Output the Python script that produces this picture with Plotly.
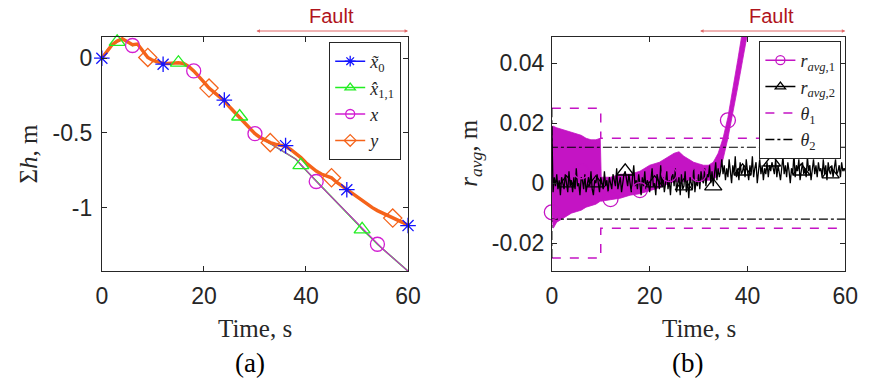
import numpy as np
import plotly.graph_objects as go

# ---------------- Panel (a) data ----------------
t_a = list(range(61))
y_meas = [0.00, 0.05, 0.09, 0.115, 0.13, 0.11, 0.09, 0.095, 0.05, 0.005,
          -0.015, -0.025, -0.035, -0.035, -0.03, -0.03, -0.035, -0.055, -0.085, -0.12,
          -0.16, -0.20, -0.23, -0.26, -0.285, -0.325, -0.36, -0.395, -0.435, -0.47,
          -0.505, -0.53, -0.55, -0.565, -0.575, -0.58, -0.59, -0.61, -0.635, -0.665,
          -0.70, -0.73, -0.755, -0.775, -0.785, -0.80, -0.83, -0.855, -0.88, -0.905,
          -0.93, -0.955, -0.98, -1.00, -1.02, -1.035, -1.05, -1.07, -1.085, -1.10, -1.12]
x_tilde0 = [0.00, 0.05, 0.09, 0.115, 0.13, 0.11, 0.09, 0.095, 0.05, 0.005,
            -0.015, -0.025, -0.04, -0.035, -0.03, -0.03, -0.035, -0.055, -0.085, -0.12,
            -0.16, -0.20, -0.23, -0.26, -0.28, -0.325, -0.36, -0.395, -0.435, -0.47,
            -0.505, -0.53, -0.55, -0.565, -0.575, -0.58, -0.585, -0.61, -0.635, -0.665,
            -0.70, -0.73, -0.755, -0.775, -0.785, -0.80, -0.83, -0.855, -0.88, -0.905,
            -0.93, -0.955, -0.98, -1.00, -1.02, -1.035, -1.05, -1.07, -1.085, -1.10, -1.12]
x_state = [0.00, 0.05, 0.09, 0.115, 0.13, 0.11, 0.085, 0.095, 0.05, 0.005,
           -0.015, -0.025, -0.035, -0.035, -0.03, -0.03, -0.035, -0.055, -0.085, -0.12,
           -0.16, -0.20, -0.23, -0.26, -0.285, -0.325, -0.36, -0.395, -0.435, -0.47,
           -0.505, -0.53, -0.55, -0.57, -0.59, -0.61, -0.63, -0.65, -0.675, -0.71,
           -0.75, -0.79, -0.825, -0.86, -0.895, -0.93, -0.965, -1.00, -1.035, -1.07,
           -1.105, -1.14, -1.175, -1.21, -1.245, -1.275, -1.305, -1.335, -1.365, -1.395, -1.425]
x_hat11 = [0.00, 0.05, 0.09, 0.11, 0.13, 0.11, 0.085, 0.095, 0.05, 0.005,
           -0.015, -0.025, -0.035, -0.035, -0.03, -0.03, -0.035, -0.055, -0.085, -0.12,
           -0.16, -0.20, -0.23, -0.26, -0.285, -0.325, -0.36, -0.39, -0.435, -0.47,
           -0.505, -0.53, -0.55, -0.57, -0.59, -0.61, -0.63, -0.65, -0.675, -0.715,
           -0.75, -0.79, -0.825, -0.86, -0.895, -0.93, -0.965, -1.00, -1.035, -1.07,
           -1.105, -1.145, -1.175, -1.21, -1.245, -1.275, -1.305, -1.335, -1.365, -1.395, -1.425]
mk_xt0 = [0, 12, 24, 36, 48, 60]
mk_xh11 = [3, 15, 27, 39, 51]
mk_x = [6, 18, 30, 42, 54]
mk_y = [9, 21, 33, 45, 57]

# ---------------- Panel (b) data ----------------
# r_avg,2 (mm), sampled every 0.25 s from 0 to 60 s
r2_mm = [19, -3, 2, -1, 3, -2, 1, -4, 2, 0, -2, 3, 0, -3, 4, -1, 1, -3, 2, -2,
         5, -1, 0, -4, 2, 1, -2, 3, -3, 0, 2, -1, 4, -2, -4, 1, 0, 3, -1, -3,
         2, 0, -2, 4, -1, 1, -3, 2, 0, -2, 3, 1, -1, 5, -2, 0, 2, -3, 1, 3,
         4, 2, -1, 3, 0, -3, 2, 6, -1, 1, -2, 3, 0, -4, 2, -1, 4, -2, 1, 0,
         -3, 2, 5, -1, 0, -4, 3, 1, -2, 6, -1, 2, -3, 0, 4, -2, 1, -4, 2, 3,
         -1, 5, -3, 0, 2, -4, 3, -2, -1, 4, -3, 1, -5, 2, 0, -2, 5, -3, 1, -1,
         3, -2, 4, 1, 0, 5, -1, 3, 2, 6, 0, 4, -1, 3, 7, 1, 5, 2, 4, 8,
         3, 6, 1, 5, 2, 8, 4, 0, 6, 3, 9, 2, 5, 1, 7, 3, 4, 6, 2, 8,
         4, 1, 6, 3, 9, 2, 5, 7, 0, 4, 8, 3, 6, 1, 5, 3, 7, 2, 6, 4,
         7, 5, 3, 8, 2, 6, 4, 1, 5, 9, 3, 6, 2, 7, 4, 0, 5, 3, 10, 2,
         6, 4, 8, 1, 4, 7, 3, 5, 2, 9, 4, 6, 1, 5, 8, 3, 6, 2, 7, 4,
         5, 2, 8, 3, 6, 1, 7, 4, 3, 6, 2, 5, 8, 3, 4, 6, 2, 7, 4, 5,
         4]
t_b = [i * 0.25 for i in range(len(r2_mm))]
mk_r2 = [12, 36, 60, 84, 108, 132, 156, 180, 204, 228]

# r_avg,1 oscillation envelope (mm)
r1_t = [0, 0.3, 1, 2, 3, 4, 5, 6, 7, 8, 9, 9.9, 10.1, 12, 14, 16, 18, 20, 22, 24,
        25, 26, 27, 28, 29, 30, 31, 32, 33, 34, 35, 36, 37, 38, 39, 40]
r1_hi_mm = [19, 19, 18.5, 18, 17.5, 17, 16.5, 16, 15, 14.5, 14.5, 15, 2, 2, 3, 3, 4, 6, 7, 9,
            10, 10.5, 9, 8, 7, 6.5, 6, 6, 7, 10, 15, 22, 31, 41, 51, 60]
r1_lo_mm = [-10, -15, -13, -12, -11, -10, -9.5, -9, -8, -7.5, -7, -6, -6, -5.5, -5, -4, -3.5, -2.5, -1.5, 0,
            0.5, 0.5, 0.5, 1, 1, 1.5, 1, 1, 1, 3, 8, 15, 23, 32, 41, 50]
r1_mk_t = [0, 6, 12, 18, 24, 30, 36]
r1_mk_mm = [-9.7, 4, -5.3, -2.3, 3, 3, 21]

theta1_t = [0, 10, 10, 60]
theta1_mm = [25, 25, 15, 15]
theta2_t = [0, 0, 60]
theta2_mm = [25, 12, 12]

# ---------------- Figure ----------------
W, H = 872, 386
def px_x(p): return p / W
def px_y(p): return 1 - p / H

BLUE, GREEN, MAG, ORANGE = "#1414ff", "#22ee22", "#d21ed2", "#f5631a"
MAG_B = "#c414c4"
AX = "#262626"
SERIF = "Liberation Serif"
SANS = "Liberation Sans"

fig = go.Figure()

def mm(v): return [a / 1000 for a in v]

# panel (a) lines
fig.add_trace(go.Scatter(x=t_a, y=x_tilde0, mode="lines", line=dict(color=BLUE, width=1.5),
                         showlegend=False, xaxis="x", yaxis="y"))
fig.add_trace(go.Scatter(x=t_a, y=x_hat11, mode="lines", line=dict(color=GREEN, width=1.6),
                         showlegend=False, xaxis="x", yaxis="y"))
fig.add_trace(go.Scatter(x=t_a, y=x_state, mode="lines", line=dict(color=MAG, width=1.1),
                         showlegend=False, xaxis="x", yaxis="y"))
fig.add_trace(go.Scatter(x=t_a, y=y_meas, mode="lines", line=dict(color=ORANGE, width=3.5),
                         showlegend=False, xaxis="x", yaxis="y"))
# panel (a) markers
for idx, arr, col, sym, sz in [(mk_xt0, x_tilde0, BLUE, "asterisk-open", 13),
                                (mk_xh11, x_hat11, GREEN, "triangle-up-open", 14),
                                (mk_x, x_state, MAG, "circle-open", 14),
                                (mk_y, y_meas, ORANGE, "diamond-open", 14)]:
    fig.add_trace(go.Scatter(x=[t_a[i] for i in idx], y=[arr[i] for i in idx], mode="markers",
                             marker=dict(symbol=sym, size=sz, color=col, line=dict(color=col, width=1.3)),
                             cliponaxis=False, showlegend=False, xaxis="x", yaxis="y"))
# panel (a) legend entries
for name, col, sym in [("<i>x̃</i><sub>0</sub>", BLUE, "asterisk-open"),
                       ("<i>x̂</i><sub>1,1</sub>", GREEN, "triangle-up-open"),
                       ("<i>x</i>", MAG, "circle-open"),
                       ("<i>y</i>", ORANGE, "diamond-open")]:
    fig.add_trace(go.Scatter(x=[None], y=[None], mode="lines+markers", name=name,
                             line=dict(color=col, width=1.5),
                             marker=dict(symbol=sym, size=9, color=col, line=dict(color=col, width=1.3)),
                             legend="legend", xaxis="x", yaxis="y"))

# panel (b) magenta band
fig.add_trace(go.Scatter(x=r1_t, y=mm(r1_hi_mm), mode="lines", line=dict(color=MAG_B, width=0.8),
                         showlegend=False, xaxis="x2", yaxis="y2"))
fig.add_trace(go.Scatter(x=r1_t, y=mm(r1_lo_mm), mode="lines", line=dict(color=MAG_B, width=0.8),
                         fill="tonexty", fillcolor=MAG_B, showlegend=False, xaxis="x2", yaxis="y2"))
# black noise
fig.add_trace(go.Scatter(x=t_b, y=mm(r2_mm), mode="lines", line=dict(color="black", width=1.3),
                         showlegend=False, xaxis="x2", yaxis="y2"))
# thresholds
fig.add_trace(go.Scatter(x=theta1_t, y=mm(theta1_mm), mode="lines", line=dict(color=MAG_B, width=1.5, dash="dash"),
                         showlegend=False, xaxis="x2", yaxis="y2"))
fig.add_trace(go.Scatter(x=theta1_t, y=[-v for v in mm(theta1_mm)], mode="lines", line=dict(color=MAG_B, width=1.5, dash="dash"),
                         showlegend=False, xaxis="x2", yaxis="y2"))
fig.add_trace(go.Scatter(x=theta2_t, y=mm(theta2_mm), mode="lines", line=dict(color="black", width=1.2, dash="dashdot"),
                         showlegend=False, xaxis="x2", yaxis="y2"))
fig.add_trace(go.Scatter(x=theta2_t, y=[-v for v in mm(theta2_mm)], mode="lines", line=dict(color="black", width=1.2, dash="dashdot"),
                         showlegend=False, xaxis="x2", yaxis="y2"))
# markers
fig.add_trace(go.Scatter(x=r1_mk_t, y=mm(r1_mk_mm), mode="markers",
                         marker=dict(symbol="circle-open", size=15, color=MAG_B, line=dict(color=MAG_B, width=1.3)),
                         cliponaxis=False, showlegend=False, xaxis="x2", yaxis="y2"))
fig.add_trace(go.Scatter(x=[t_b[i] for i in mk_r2], y=[r2_mm[i] / 1000 for i in mk_r2], mode="markers",
                         marker=dict(symbol="triangle-up-open", size=15, color="black", line=dict(color="black", width=1.3)),
                         cliponaxis=False, showlegend=False, xaxis="x2", yaxis="y2"))
# panel (b) legend entries
for name, col, sym, dash in [("<i>r</i><sub><i>avg</i>,1</sub>", MAG_B, "circle-open", "solid"),
                             ("<i>r</i><sub><i>avg</i>,2</sub>", "black", "triangle-up-open", "solid"),
                             ("<i>θ</i><sub>1</sub>", MAG_B, None, "dash"),
                             ("<i>θ</i><sub>2</sub>", "black", None, "dashdot")]:
    if sym:
        fig.add_trace(go.Scatter(x=[None], y=[None], mode="lines+markers", name=name,
                                 line=dict(color=col, width=1.5, dash=dash),
                                 marker=dict(symbol=sym, size=9, color=col, line=dict(color=col, width=1.3)),
                                 legend="legend2", xaxis="x2", yaxis="y2"))
    else:
        fig.add_trace(go.Scatter(x=[None], y=[None], mode="lines", name=name,
                                 line=dict(color=col, width=1.5, dash=dash),
                                 legend="legend2", xaxis="x2", yaxis="y2"))

axis_common = dict(showline=True, linecolor=AX, linewidth=1, mirror="ticks", ticks="inside",
                   ticklen=5, tickcolor=AX, showgrid=False, zeroline=False,
                   tickfont=dict(family=SANS, size=23, color=AX))
ydom = [px_y(271), px_y(37)]
fig.update_layout(
    width=W, height=H, margin=dict(l=0, r=0, t=0, b=0),
    plot_bgcolor="white", paper_bgcolor="white",
    xaxis=dict(domain=[px_x(98), px_x(411)], range=[0, 60], tickvals=[0, 20, 40, 60],
               anchor="y", ticklabelstandoff=4, **axis_common),
    yaxis=dict(domain=ydom, range=[-1.424, 0.142], tickvals=[-1, -0.5, 0],
               ticktext=["-1", "-0.5", "0"], anchor="x", ticklabelstandoff=4, **axis_common),
    xaxis2=dict(domain=[px_x(558), px_x(858)], range=[0, 60], tickvals=[0, 20, 40, 60],
                anchor="y2", ticklabelstandoff=4, **axis_common),
    yaxis2=dict(domain=ydom, range=[-0.0293, 0.0488], tickvals=[-0.02, 0, 0.02, 0.04],
                ticktext=["-0.02", "0", "0.02", "0.04"], anchor="x2", ticklabelstandoff=2, **axis_common),
    legend=dict(x=px_x(404), xanchor="right", y=px_y(42), yanchor="top", traceorder="normal",
                bordercolor=AX, borderwidth=1, bgcolor="white",
                font=dict(family=SERIF, size=18, color=AX), tracegroupgap=0),
    legend2=dict(x=px_x(854), xanchor="right", y=px_y(41), yanchor="top", traceorder="normal",
                 bordercolor=AX, borderwidth=1, bgcolor="white",
                 font=dict(family=SERIF, size=18, color=AX), tracegroupgap=0),
)

ann = []
def txt(xp, yp, text, size, color=AX, family=SERIF, angle=0):
    return dict(x=px_x(xp), xref="paper", y=px_y(yp), yref="paper", text=text, showarrow=False,
                xanchor="center", yanchor="middle", textangle=angle,
                font=dict(family=family, size=size, color=color))

for xr, xc in [("x", 45), ("x2", 45)]:
    ann.append(dict(x=xc, xref=xr, y=px_y(16), yref="paper", text="Fault", showarrow=False,
                    xanchor="center", yanchor="middle",
                    font=dict(family=SANS, size=20, color="#b0141c")))
    ann.append(dict(x=60, xref=xr, y=px_y(31), yref="paper", ax=30, axref=xr, ay=0, ayref="pixel",
                    text="", showarrow=True, arrowhead=2, arrowside="end+start", arrowsize=0.7,
                    arrowwidth=1, arrowcolor="#e06666"))
ann.append(txt(255, 328, "Time, s", 25))
ann.append(txt(708, 328, "Time, s", 25))
ann.append(txt(249, 363, "(a)", 27, color="black"))
ann.append(txt(697, 363, "(b)", 27, color="black"))
ann.append(txt(23, 153, "Σ<i>h</i>, m", 25, angle=-90))
ann.append(txt(474, 153, "<i>r</i><sub><i>avg</i></sub>, m", 25, angle=-90))
fig.update_layout(annotations=ann)

fig.write_html("out.html")
